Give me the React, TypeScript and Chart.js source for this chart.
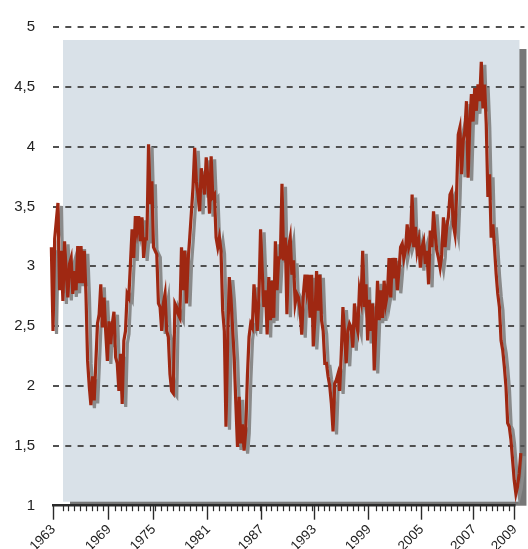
import React, { useEffect, useRef } from 'react';
import { Chart, registerables } from 'chart.js';

Chart.register(...registerables);

// Readings of the series (percent) in order, left to right
const rates1963to1972 = [
  3.16, 2.46, 3.23, 3.38, 3.53, 2.8, 3.13, 2.71, 3.21, 2.95, 2.74, 3.02, 3.07, 2.77, 2.96, 2.8,
  3.17, 2.86, 3.17, 2.86, 3.13, 2.77, 2.21, 2.0, 1.84, 2.08, 1.88, 2.2, 2.52, 2.6, 2.85, 2.49,
  2.74, 2.45, 2.21, 2.54, 2.35, 2.52, 2.62, 2.24, 2.19, 1.96, 2.27, 1.85, 2.38, 2.46, 2.77, 2.74,
  3.02, 3.31, 3.07, 3.42, 3.3, 3.42, 3.21, 3.41, 3.07,
];
const rates1972to1981 = [
  3.23, 3.23, 4.02, 3.52, 3.71, 3.16, 3.13, 3.1, 2.69, 2.66, 2.46, 2.69, 2.77, 2.46, 2.41, 2.1,
  1.96, 1.94, 2.69, 2.66, 2.6, 2.57, 3.16, 2.8, 3.13, 2.69, 3.05, 3.24, 3.45, 3.66, 3.99, 3.71,
  3.6, 3.46, 3.82, 3.71, 3.6, 3.91, 3.74, 3.44, 3.92, 3.58, 3.6, 3.24, 3.16, 3.24, 3.13, 2.63,
  2.46, 1.66, 2.35, 2.91, 2.74, 2.49, 2.24,
];
const rates1981to1992 = [
  1.85, 1.49, 1.91, 1.52, 1.68, 1.46, 1.63, 2.08, 2.41, 2.52, 2.49, 2.85, 2.69, 2.46, 2.74, 3.31,
  2.96, 2.66, 2.8, 2.43, 2.91, 2.55, 2.88, 2.57, 3.21, 2.8, 3.07, 3.07, 3.69, 3.05, 3.24, 2.6,
  3.16, 3.24, 2.93, 3.05, 2.69, 2.77, 2.74, 2.63, 2.43, 2.77, 2.93, 2.8, 2.93, 2.57, 2.93, 2.33,
  2.57, 2.96, 2.63, 2.93, 2.55, 2.46, 2.19, 2.19, 2.08,
];
const rates1992to2001 = [
  2.0, 1.85, 1.62, 2.02, 2.05, 2.1, 1.96, 2.27, 2.66, 2.43, 2.19, 2.46, 2.52, 2.49, 2.32, 2.69,
  2.52, 2.46, 2.8, 2.72, 3.13, 2.66, 2.85, 2.38, 2.72, 2.46, 2.69, 2.13, 2.49, 2.88, 2.55, 2.8,
  2.57, 2.88, 2.69, 2.77, 3.07, 2.74, 3.07, 2.9, 3.07, 2.8, 2.96, 3.16, 3.19, 3.07, 3.14, 3.35,
  3.16, 3.21, 3.6, 3.16, 3.33, 3.13,
];
const rates2001to2009 = [
  3.21, 2.99, 3.16, 3.21, 3.02, 3.13, 2.85, 3.3, 3.16, 3.46, 3.27, 3.13, 3.07, 2.99, 3.1, 3.41,
  3.16, 3.33, 3.41, 3.6, 3.63, 3.35, 3.27, 3.6, 4.1, 4.16, 3.77, 4.05, 4.13, 4.38, 3.74, 4.19,
  4.44, 4.21, 4.49, 4.3, 4.52, 4.38, 4.71, 4.32, 4.52, 4.19, 3.58, 3.77, 3.24, 3.35, 3.16, 2.94,
  2.77, 2.66, 2.38, 2.3, 2.16, 1.99, 1.69, 1.66, 1.55, 1.38, 1.21, 1.1, 1.16, 1.27, 1.44,
];

const rateSeries = [
  ...rates1963to1972,
  ...rates1972to1981,
  ...rates1981to1992,
  ...rates1992to2001,
  ...rates2001to2009,
];

// x-axis: labelled ticks (in series-index units) and their labels
const yearLabels = ['1963', '1969', '1975', '1981', '1987', '1993', '1999', '2005', '2007', '2009'];
const yearTickPositions = [0.99, 34.73, 61.85, 95.0, 127.53, 159.46, 192.6, 224.54, 256.47, 281.18];
const X_MIN = 0.99;
const X_MAX = 287.2;
const MINOR_START = 6.83;
const MINOR_STEP = 3.52;

// y-axis
const Y_MIN = 1;
const Y_MAX = 5;
const Y_STEP = 0.5;

const LINE_COLOR = '#9f2812';
const PANEL_COLOR = '#d9e1e8';
const PANEL_SHADOW = '#777777';
const FONT = '"Liberation Sans", Arial, sans-serif';

const panelPlugin = {
  id: 'panel',
  beforeDraw(chart: any) {
    const { ctx, chartArea: a } = chart;
    const left = a.left + 10;
    const top = a.top + 13;
    const right = a.right - 5;
    const bottom = a.bottom - 4;
    ctx.save();
    ctx.fillStyle = PANEL_SHADOW;
    ctx.fillRect(left + 7, top + 9, right - left, a.bottom - (top + 9));
    ctx.fillStyle = PANEL_COLOR;
    ctx.fillRect(left, top, right - left, bottom - top);
    ctx.restore();
  },
};

const lineShadowPlugin = {
  id: 'lineShadow',
  beforeDatasetDraw(chart: any) {
    const c = chart.ctx;
    c.save();
    c.shadowColor = '#8a8a8a';
    c.shadowOffsetX = 3.5;
    c.shadowOffsetY = 3;
    c.shadowBlur = 0;
  },
  afterDatasetDraw(chart: any) {
    chart.ctx.restore();
  },
};

const axisPlugin = {
  id: 'axisLine',
  afterDraw(chart: any) {
    const { ctx, chartArea: a } = chart;
    const xs = chart.scales.x;
    const first = yearTickPositions[0];
    const last = yearTickPositions[yearTickPositions.length - 1];
    const y0 = a.bottom - 0.5;
    ctx.save();
    ctx.strokeStyle = '#2a2a2a';
    ctx.lineWidth = 1.2;
    for (let v = MINOR_START; v < last - 1; v += MINOR_STEP) {
      if (yearTickPositions.some((m) => Math.abs(m - v) < 1)) continue;
      const px = Math.round(xs.getPixelForValue(v)) + 0.5;
      ctx.beginPath();
      ctx.moveTo(px, y0);
      ctx.lineTo(px, y0 + 6);
      ctx.stroke();
    }
    ctx.lineWidth = 2.6;
    ctx.beginPath();
    ctx.moveTo(xs.getPixelForValue(first) - 1, y0);
    ctx.lineTo(xs.getPixelForValue(last) + 1, y0);
    ctx.stroke();
    ctx.restore();
  },
};

export default function App() {
  const ref = useRef<HTMLCanvasElement | null>(null);

  useEffect(() => {
    if (!ref.current) return;
    const chart = new Chart(ref.current, {
      type: 'line',
      data: {
        datasets: [
          {
            data: rateSeries.map((v, i) => ({ x: i, y: v })),
            borderColor: LINE_COLOR,
            borderWidth: 3.2,
            pointRadius: 0,
            tension: 0,
            fill: false,
            clip: false as any,
          },
        ],
      },
      options: {
        responsive: false,
        animation: false,
        devicePixelRatio: 1,
        layout: { padding: { top: 25.5, left: 0, right: 0, bottom: 0 } },
        plugins: {
          legend: { display: false },
          tooltip: { enabled: false },
          title: { display: false },
        },
        scales: {
          x: {
            type: 'linear',
            min: X_MIN,
            max: X_MAX,
            afterBuildTicks: (scale: any) => {
              scale.ticks = yearTickPositions.map((v) => ({ value: v }));
            },
            afterFit: (scale: any) => {
              scale.height = 43.3;
            },
            border: { display: false },
            grid: {
              drawOnChartArea: false,
              drawTicks: true,
              tickLength: 14,
              tickColor: '#2a2a2a',
              tickWidth: 1.4,
            },
            ticks: {
              autoSkip: false,
              minRotation: 45,
              maxRotation: 45,
              padding: 2,
              labelOffset: 0.5,
              color: '#222',
              font: { family: FONT, size: 13.5 },
              callback: (_v: any, i: number) => yearLabels[i] ?? '',
            },
          },
          y: {
            min: Y_MIN,
            max: Y_MAX,
            afterFit: (scale: any) => {
              scale.width = 53;
            },
            border: { display: false, dash: [6, 6.3] },
            grid: {
              drawTicks: false,
              lineWidth: 2,
              color: (ctx: any) => (ctx.tick && ctx.tick.value === Y_MIN ? 'rgba(0,0,0,0)' : '#505050'),
            },
            ticks: {
              stepSize: Y_STEP,
              padding: 18,
              color: '#222',
              font: { family: FONT, size: 15 },
              callback: (v: any) => String(v).replace('.', ','),
            },
          },
        },
      },
      plugins: [panelPlugin, lineShadowPlugin, axisPlugin],
    } as any);
    return () => chart.destroy();
  }, []);

  return (
    <div style={{ position: 'absolute', left: 0, top: 0, width: 528, height: 549 }}>
      <canvas ref={ref} width={528} height={549} />
    </div>
  );
}
